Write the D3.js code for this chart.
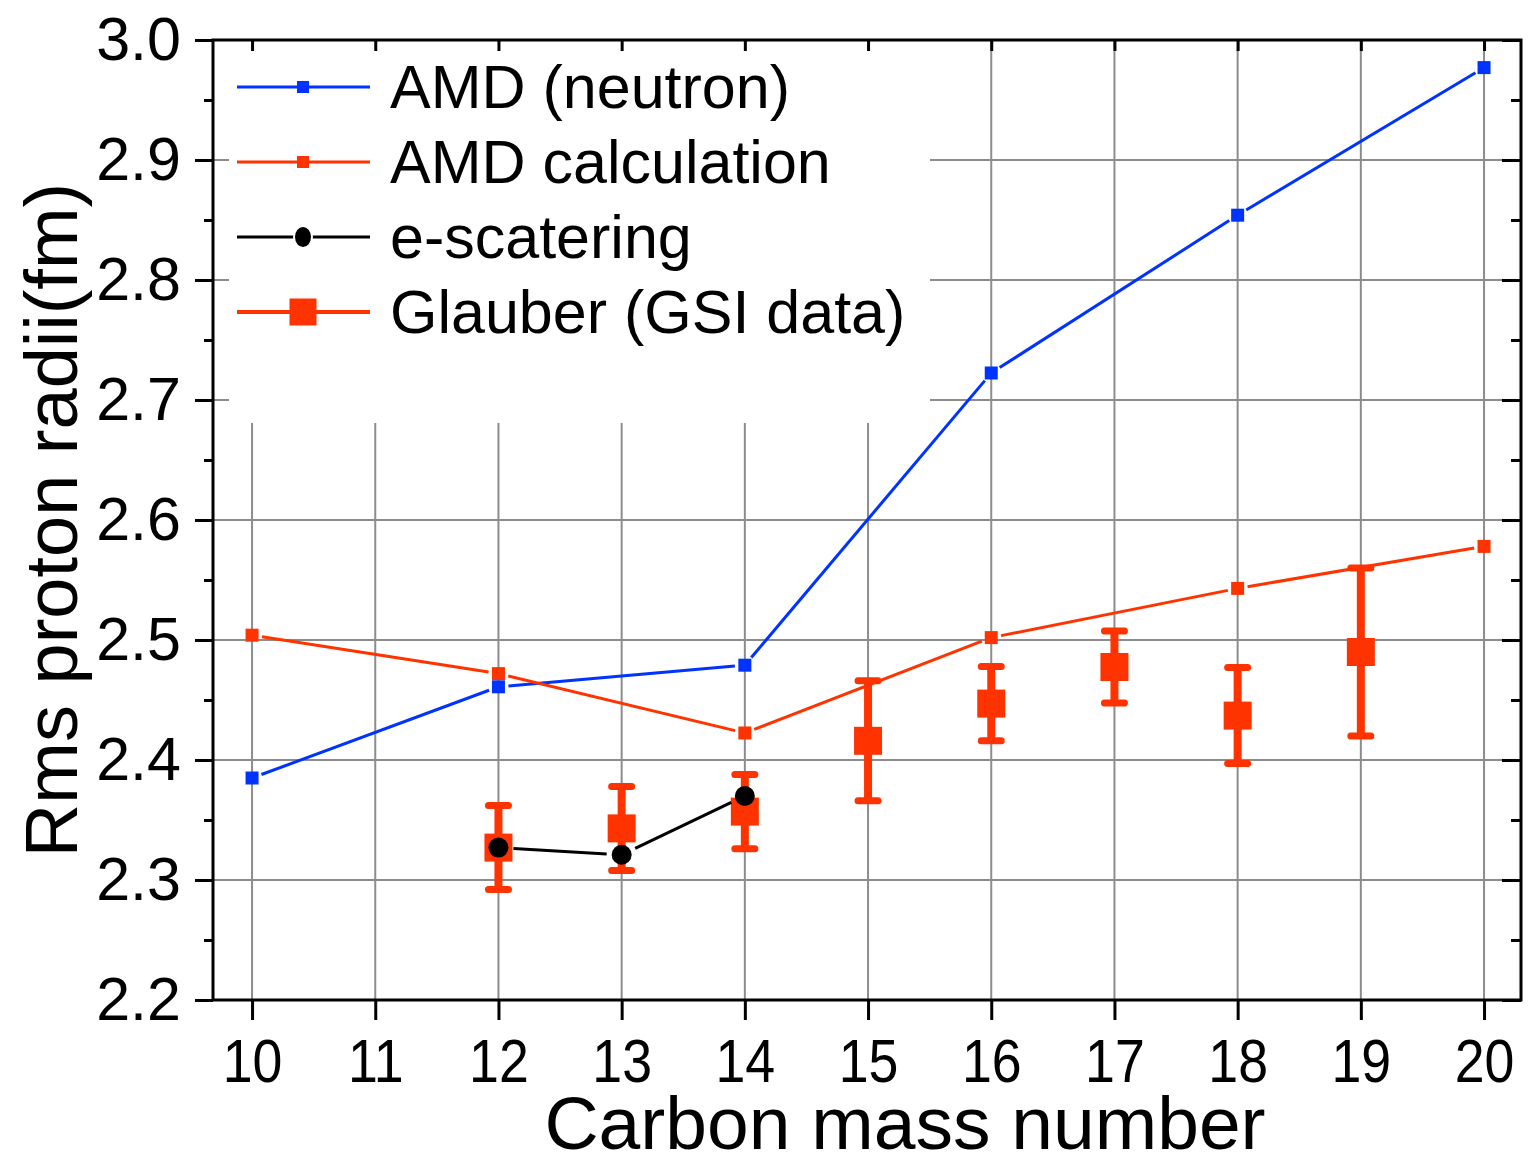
<!DOCTYPE html>
<html>
<head>
<meta charset="utf-8">
<script src="https://cdn.jsdelivr.net/npm/d3@7"></script>
<style>
body{margin:0;background:#ffffff;}
text{font-family:"Liberation Sans",Arial,sans-serif;}
</style>
</head>
<body>
<svg id="chart" width="1532" height="1166"></svg>
<script>

// carbon mass numbers
var massAMD=[10,12,14,16,18,20];
var amdNeutron=[2.385,2.461,2.479,2.7225,2.854,2.977];
var amdCalc=[2.504,2.472,2.4225,2.502,2.543,2.578];

var massE=[12,13,14];
var eScat=[2.327,2.321,2.370];

var massGlauber=[12,13,14,15,16,17,18,19];
var glauber=[2.327,2.343,2.357,2.416,2.447,2.4775,2.437,2.490];
var glauberErr=[0.035,0.035,0.031,0.050,0.031,0.030,0.040,0.070];

var xTicks=[10,11,12,13,14,15,16,17,18,19,20];
var yTicks=[2.2,2.3,2.4,2.5,2.6,2.7,2.8,2.9,3.0];
var yMinor=[2.25,2.35,2.45,2.55,2.65,2.75,2.85,2.95];

var legendNames=["AMD (neutron)","AMD calculation","e-scatering","Glauber (GSI data)"];

var azul="#0033ff";
var rojo="#ff3300";
var gris="#8c8c8c";

var marginLeft=213, marginTop=40, plotRight=1521, plotBottom=1000;

var svg=d3.select("#chart");

var x=d3.scaleLinear().domain([9.683,20.30]).range([marginLeft,plotRight]);
var y=d3.scaleLinear().domain([2.2,3.0]).range([plotBottom,marginTop]);

// grid
var grid=svg.append("g");
for(var i=0;i<xTicks.length;i++){
    grid.append("line")
        .attr("x1",x(xTicks[i])).attr("x2",x(xTicks[i]))
        .attr("y1",marginTop).attr("y2",plotBottom)
        .attr("stroke",gris).attr("stroke-width",2);
}
for(var i=0;i<yTicks.length;i++){
    grid.append("line")
        .attr("x1",marginLeft).attr("x2",plotRight)
        .attr("y1",y(yTicks[i])).attr("y2",y(yTicks[i]))
        .attr("stroke",gris).attr("stroke-width",2);
}

// legend background hides the grid
svg.append("rect")
    .attr("x",229).attr("y",42)
    .attr("width",701).attr("height",381)
    .attr("fill","#ffffff");

// line with small gaps around the symbols
function lineaConHueco(xs,ys,color,ancho,hueco){
    for(var k=0;k<xs.length-1;k++){
        var x1=x(xs[k]),y1=y(ys[k]),x2=x(xs[k+1]),y2=y(ys[k+1]);
        var dx=x2-x1,dy=y2-y1,len=Math.sqrt(dx*dx+dy*dy);
        svg.append("line")
            .attr("x1",x1+dx/len*hueco).attr("y1",y1+dy/len*hueco)
            .attr("x2",x2-dx/len*hueco).attr("y2",y2-dy/len*hueco)
            .attr("stroke",color).attr("stroke-width",ancho);
    }
}

function cuadros(xs,ys,color,lado){
    svg.append("g").selectAll("rect").data(xs).enter().append("rect")
        .attr("x",function(d){return x(d)-lado/2;})
        .attr("y",function(d,j){return y(ys[j])-lado/2;})
        .attr("width",lado).attr("height",lado)
        .attr("fill",color);
}

lineaConHueco(massAMD,amdNeutron,azul,3,10);
cuadros(massAMD,amdNeutron,azul,13);

lineaConHueco(massAMD,amdCalc,rojo,3,10);
cuadros(massAMD,amdCalc,rojo,13);

// Glauber with error bars
for(var i=0;i<massGlauber.length;i++){
    var cx=x(massGlauber[i]);
    var yt=y(glauber[i]+glauberErr[i]);
    var yb=y(glauber[i]-glauberErr[i]);
    svg.append("line")
        .attr("x1",cx).attr("x2",cx).attr("y1",yt).attr("y2",yb)
        .attr("stroke",rojo).attr("stroke-width",8);
    svg.append("line")
        .attr("x1",cx-10).attr("x2",cx+10).attr("y1",yt).attr("y2",yt)
        .attr("stroke",rojo).attr("stroke-width",7).attr("stroke-linecap","round");
    svg.append("line")
        .attr("x1",cx-10).attr("x2",cx+10).attr("y1",yb).attr("y2",yb)
        .attr("stroke",rojo).attr("stroke-width",7).attr("stroke-linecap","round");
}
cuadros(massGlauber,glauber,rojo,28);

// e-scattering
lineaConHueco(massE,eScat,"#000000",3,15);
svg.append("g").selectAll("circle").data(massE).enter().append("circle")
    .attr("cx",function(d){return x(d);})
    .attr("cy",function(d,j){return y(eScat[j]);})
    .attr("r",10)
    .attr("fill","#000000");

// frame
svg.append("rect")
    .attr("x",marginLeft).attr("y",marginTop)
    .attr("width",plotRight-marginLeft).attr("height",plotBottom-marginTop)
    .attr("fill","none").attr("stroke","#000000").attr("stroke-width",3);

// axes
var ejeX=svg.append("g").attr("transform","translate(0,"+plotBottom+")")
    .call(d3.axisBottom(x).tickValues(xTicks).tickSize(20).tickSizeOuter(0).tickPadding(19).tickFormat(d3.format("d")));
var ejeXtop=svg.append("g").attr("transform","translate(0,"+marginTop+")")
    .call(d3.axisTop(x).tickValues(xTicks).tickSize(-11).tickSizeOuter(0).tickFormat(""));
var ejeY=svg.append("g").attr("transform","translate("+marginLeft+",0)")
    .call(d3.axisLeft(y).tickValues(yTicks).tickSize(18).tickSizeOuter(0).tickPadding(14).tickFormat(d3.format(".1f")));
var ejeYmin=svg.append("g").attr("transform","translate("+marginLeft+",0)")
    .call(d3.axisLeft(y).tickValues(yMinor).tickSize(9).tickSizeOuter(0).tickFormat(""));
var ejeYr=svg.append("g").attr("transform","translate("+plotRight+",0)")
    .call(d3.axisRight(y).tickValues(yTicks).tickSize(-19).tickSizeOuter(0).tickFormat(""));
var ejeYrmin=svg.append("g").attr("transform","translate("+plotRight+",0)")
    .call(d3.axisRight(y).tickValues(yMinor).tickSize(-10).tickSizeOuter(0).tickFormat(""));

[ejeX,ejeXtop,ejeY,ejeYmin,ejeYr,ejeYrmin].forEach(function(g){
    g.select(".domain").remove();
    g.selectAll(".tick line").attr("stroke","#000000").attr("stroke-width",3);
    g.selectAll(".tick text")
        .style("font-family","'Liberation Sans',Arial,sans-serif")
        .style("font-size","61px")
        .attr("fill","#000000");
});
ejeY.selectAll(".tick text").attr("dy","0.32em");
// the x labels are a bit narrow in the original
ejeX.selectAll(".tick text").attr("transform","scale(0.88,1)");

// axis titles
svg.append("text")
    .attr("x",905).attr("y",1149)
    .attr("text-anchor","middle")
    .style("font-size","75px")
    .text("Carbon mass number");

svg.append("text")
    .attr("transform","translate(77,520) rotate(-90)")
    .attr("text-anchor","middle")
    .style("font-size","74px")
    .text("Rms proton radii(fm)");

// legend
var legY=[87,162,237,312];
var legColor=[azul,rojo,"#000000",rojo];
for(var i=0;i<legendNames.length;i++){
    var grueso=(i==3)?4:3;
    svg.append("line")
        .attr("x1",237).attr("x2",370).attr("y1",legY[i]).attr("y2",legY[i])
        .attr("stroke",legColor[i]).attr("stroke-width",grueso);
    if(i==2){
        svg.append("ellipse").attr("cx",303).attr("cy",legY[i]).attr("rx",9).attr("ry",11)
            .attr("fill","#000000")
            .attr("stroke","#ffffff").attr("stroke-width",2);
    }else{
        var lado=(i==3)?27:12;
        svg.append("rect")
            .attr("x",303-lado/2).attr("y",legY[i]-lado/2)
            .attr("width",lado).attr("height",lado)
            .attr("fill",legColor[i]);
    }
    svg.append("text")
        .attr("x",390).attr("y",legY[i]+21)
        .style("font-size","61px")
        .text(legendNames[i]);
}

</script>
</body>
</html>
